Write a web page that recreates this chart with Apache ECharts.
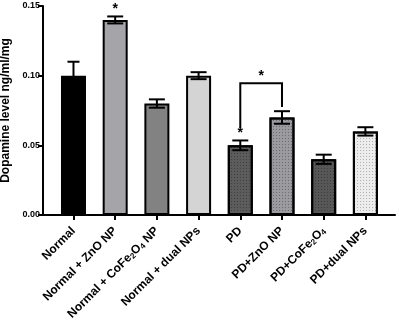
<!DOCTYPE html>
<html><head><meta charset="utf-8">
<script src="https://cdn.jsdelivr.net/npm/echarts@6/dist/echarts.min.js"></script>
<style>html,body{margin:0;padding:0;background:#fff}#c{width:398px;height:327px}</style>
</head><body><div id="c"></div>
<script>
const categories = ['Normal', 'Normal + ZnO NP', 'Normal + CoFe2O4 NP', 'Normal + dual NPs', 'PD', 'PD+ZnO NP', 'PD+CoFe2O4', 'PD+dual NPs'];
const means = [0.100, 0.140, 0.080, 0.100, 0.050, 0.070, 0.040, 0.060];
const errors = [0.010, 0.0025, 0.003, 0.0025, 0.0035, 0.0045, 0.0033, 0.003];
const colors = ['#000000', '#a5a4a9', '#828282', '#d4d4d4', '#5c5c5c', '#9b9b9f', '#575757', '#ececec'];
const dotted = [false, false, false, false, true, true, true, true];
const yTicks = [0, 0.05, 0.10, 0.15];
// significance: single stars [category index, y value]; bracket [from, to, yTop, yLeftEnd, yRightEnd]
const stars = [[1, 0.1475], [4, 0.0585]];
const bracket = [4, 5, 0.0945, 0.0625, 0.0775];
const bracketStar = 0.0995;

const idx = categories.map((c, i) => i);
const chart = echarts.init(document.getElementById('c'));
const fontFam = '"Liberation Sans", Arial, sans-serif';
chart.setOption({
  animation: false,
  grid: { left: 43, right: 3, top: 6, bottom: 112, outerBoundsMode: 'none' },
  xAxis: {
    type: 'value', min: -0.731, max: 7.71,
    splitLine: { show: false },
    axisLine: { show: true, onZero: false, lineStyle: { color: '#000', width: 2 } },
    axisTick: { show: true, customValues: idx, length: 5, lineStyle: { color: '#000', width: 2 } },
    axisLabel: {
      customValues: idx,
      rotate: 45, margin: 14, color: '#000', fontWeight: 'bold', fontSize: 12, fontFamily: fontFam,
      formatter: v => (categories[Math.round(v)] || '').replace('CoFe2O4', 'CoFe{sub|2}O{sub|4}'),
      rich: { sub: { fontSize: 8, fontWeight: 'bold', fontFamily: fontFam, color: '#000', verticalAlign: 'bottom', padding: [5, 0, 0, 0] } }
    }
  },
  yAxis: {
    type: 'value', min: 0, max: 0.15, interval: 0.05,
    name: 'Dopamine level ng/ml/mg', nameLocation: 'middle', nameGap: 24,
    nameTextStyle: { color: '#000', fontWeight: 'bold', fontSize: 12, fontFamily: fontFam },
    axisLine: { show: true, onZero: false, lineStyle: { color: '#000', width: 2 } },
    axisTick: { show: true, length: 5, lineStyle: { color: '#000', width: 2 } },
    axisLabel: { color: '#000', fontWeight: 'bold', fontSize: 9, fontFamily: fontFam, margin: 3,
      formatter: v => yTicks.some(t => Math.abs(t - v) < 1e-9) ? v.toFixed(2) : '' },
    splitLine: { show: false }
  },
  series: [
    {
      type: 'bar', barWidth: 25,
      data: means.map((m, i) => {
        const st = { color: colors[i], borderColor: '#000', borderWidth: 2 };
        if (dotted[i]) st.decal = { symbol: 'rect', symbolSize: 1, dashArrayX: [[1, 2]], dashArrayY: [1, 2], color: i === 7 ? 'rgba(0,0,0,0.25)' : 'rgba(0,0,0,0.3)' };
        return { value: [i, m], itemStyle: st };
      })
    },
    {
      type: 'custom', z: 5,
      data: means.map((m, i) => [i, m, errors[i]]),
      renderItem: (params, api) => {
        const i = api.value(0), m = api.value(1), e = api.value(2);
        const top = api.coord([i, m + e]), bot = api.coord([i, m - e]);
        const hw = i === 0 ? 6 : 8;
        const st = { stroke: '#000', lineWidth: 2 };
        return { type: 'group', children: [
          { type: 'line', shape: { x1: top[0], y1: top[1], x2: bot[0], y2: bot[1] }, style: st },
          { type: 'line', shape: { x1: top[0] - hw, y1: top[1], x2: top[0] + hw, y2: top[1] }, style: st },
          { type: 'line', shape: { x1: bot[0] - hw, y1: bot[1], x2: bot[0] + hw, y2: bot[1] }, style: st }
        ]};
      }
    },
    {
      type: 'custom', z: 6,
      data: stars,
      renderItem: (params, api) => {
        const p = api.coord([api.value(0), api.value(1)]);
        return { type: 'text', style: { text: '*', x: p[0], y: p[1], fill: '#000', font: 'bold 14px ' + fontFam, align: 'center', verticalAlign: 'middle' } };
      }
    },
    {
      type: 'custom', z: 6,
      data: [bracket],
      renderItem: (params, api) => {
        const a = api.value(0), b = api.value(1), yt = api.value(2), yl = api.value(3), yr = api.value(4);
        const p1 = api.coord([a, yl]), p2 = api.coord([a, yt]), p3 = api.coord([b, yt]), p4 = api.coord([b, yr]);
        const ps = api.coord([(a + b) / 2, bracketStar]);
        return { type: 'group', children: [
          { type: 'polyline', shape: { points: [p1, p2, p3, p4] }, style: { stroke: '#000', lineWidth: 2, fill: null } },
          { type: 'text', style: { text: '*', x: (p2[0] + p3[0]) / 2, y: ps[1], fill: '#000', font: 'bold 14px ' + fontFam, align: 'center', verticalAlign: 'middle' } }
        ]};
      }
    }
  ]
});
</script>
</body></html>
